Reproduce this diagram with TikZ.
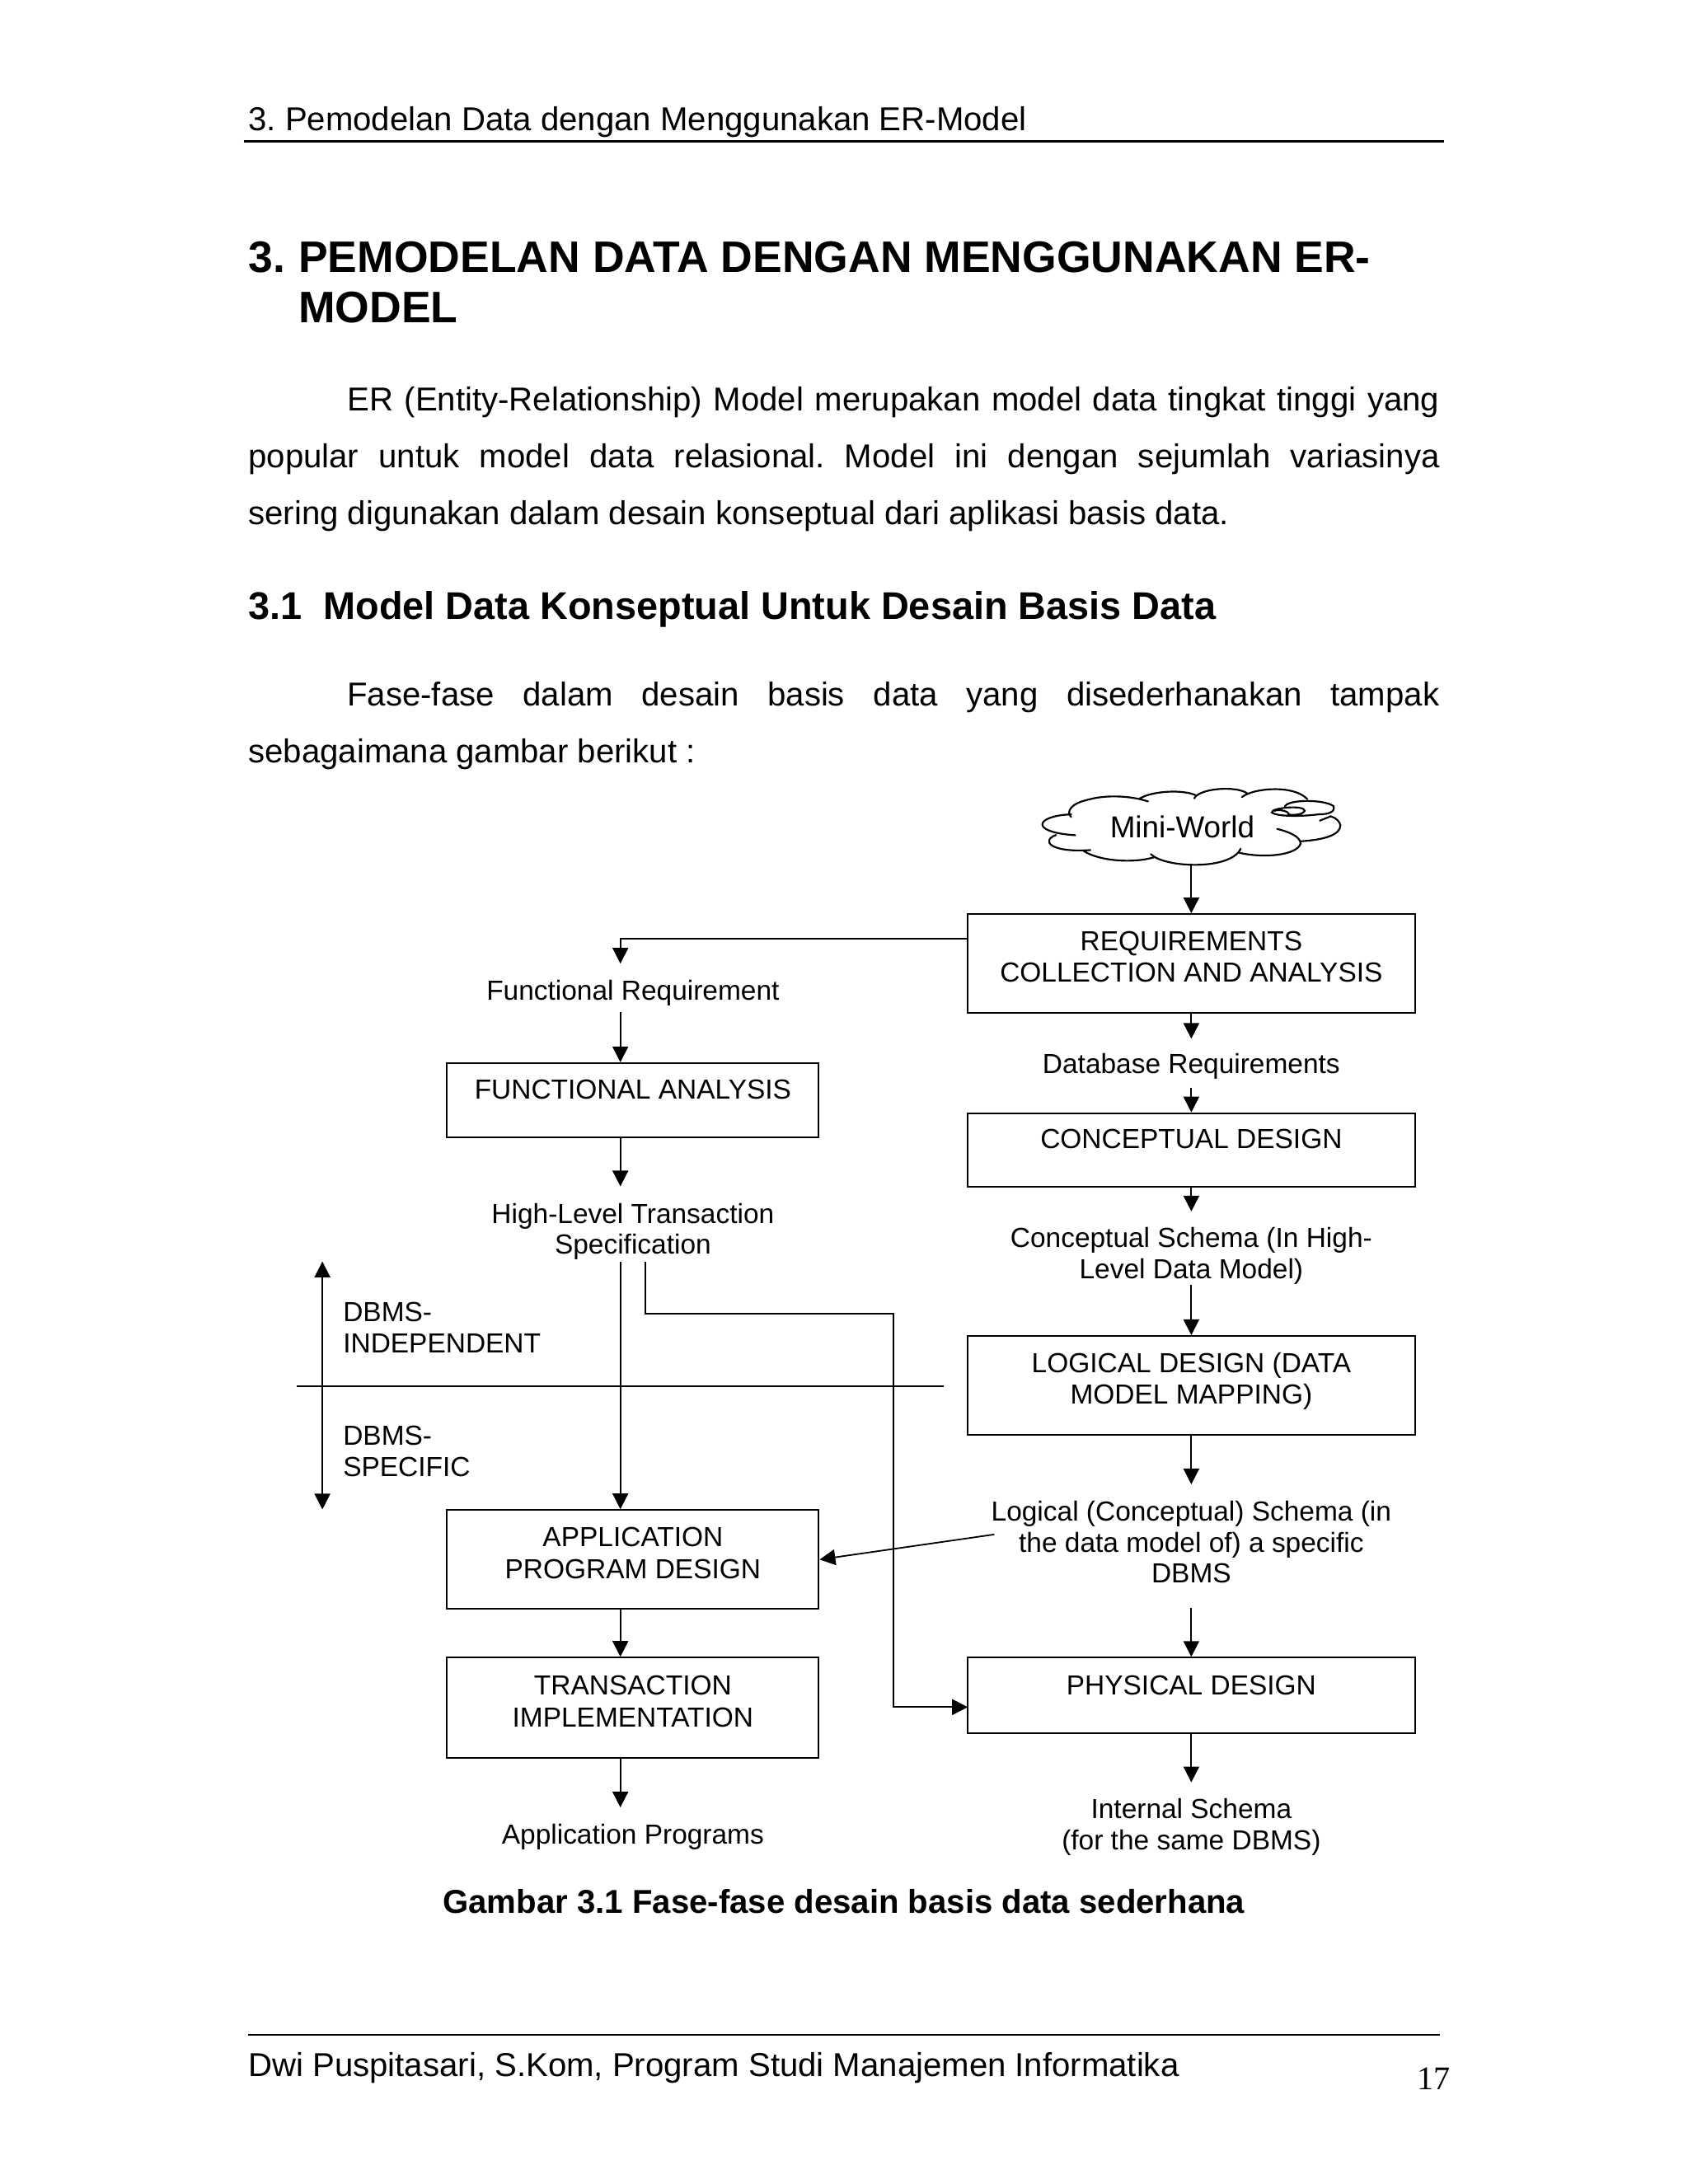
\documentclass[tikz,border=0pt]{standalone}
\usepackage{fontspec}
\setmainfont{Liberation Sans}
\newfontfamily\serifnum{Liberation Serif}
\usetikzlibrary{arrows.meta}
\AtBeginDocument{\frenchspacing}
\newcommand{\lifted}[2]{\raisebox{#1}[0pt][0pt]{\begin{tabular}{@{}c@{}}#2\end{tabular}}}
\tikzset{
  pagetext/.style={anchor=base west,inner sep=0pt,font=\fontsize{12}{14}\selectfont},
  titletext/.style={anchor=base west,inner sep=0pt,font=\fontsize{16}{18}\selectfont\bfseries},
  sectext/.style={anchor=base west,inner sep=0pt,font=\fontsize{14}{16}\selectfont\bfseries},
  procbox/.style={draw,line width=0.6pt,inner sep=0pt,font=\fontsize{10}{11.6}\selectfont},
  flowlabel/.style={inner sep=0pt,align=center,font=\fontsize{10}{11.3}\selectfont},
  sidelabel/.style={inner sep=0pt,align=left,anchor=west,font=\fontsize{10}{11.3}\selectfont},
  conn/.style={line width=0.55pt,-{Triangle[length=5.7pt,width=5.7pt]}},
  bothconn/.style={line width=0.55pt,{Triangle[length=5.7pt,width=5.7pt]}-{Triangle[length=5.7pt,width=5.7pt]}},
  plainline/.style={line width=0.6pt},
  cloudline/.style={line width=0.65pt,line cap=round},
}
\begin{document}
\begin{tikzpicture}[x=0.50495pt,y=-0.50495pt]
\useasboundingbox (0,0) rectangle (1212,1568.5);
\fill[white] (0,0) rectangle (1212,1568.5);
% page header
\node[pagetext] (hdr) at (178,94) {3. Pemodelan Data dengan Menggunakan ER-Model};
\coordinate (hdrL) at (175,101.5); \coordinate (hdrR) at (1037,101.5);
\draw[line width=0.7pt] (hdrL) -- (hdrR);
% headings and text
\node[titletext] (t1a) at (178,195.5) {3.};
\node[titletext] (t1b) at (214,195.5) {PEMODELAN DATA DENGAN MENGGUNAKAN ER-};
\node[titletext] (t1c) at (214,232) {MODEL};
\node[pagetext] (p1) at (249,295) {\makebox[396pt][s]{ER (Entity-Relationship) Model merupakan model data tingkat tinggi yang}};
\node[pagetext] (p2) at (178,336) {\makebox[432pt][s]{popular untuk model data relasional. Model ini dengan sejumlah variasinya}};
\node[pagetext] (p3) at (178,377) {sering digunakan dalam desain konseptual dari aplikasi basis data.};
\node[sectext] (s1) at (178,445) {3.1\ \ Model Data Konseptual Untuk Desain Basis Data};
\node[pagetext] (p4) at (249,507) {\makebox[396pt][s]{Fase-fase dalam desain basis data yang disederhanakan tampak}};
\node[pagetext] (p5) at (178,548) {sebagaimana gambar berikut :};
% cloud
\begin{scope}[shift={(710.06,544.4)},x=0.09961pt,y=-0.09961pt,cloudline]
\draw (300,215) .. controls (280,195) and (300,165) .. (360,152) .. controls (430,132) and (520,138) .. (580,158);
\draw (550,147) .. controls (600,118) and (710,115) .. (752,135);
\draw (748,147) .. controls (765,110) and (900,100) .. (940,128);
\draw (922,142) .. controls (960,110) and (1110,95) .. (1160,150);
\draw (300,205) .. controls (170,210) and (145,270) .. (315,281);
\draw (245,280) .. controls (190,300) and (220,345) .. (370,335);
\draw (345,338) .. controls (400,375) and (530,385) .. (605,360);
\draw (590,350) .. controls (640,400) and (880,410) .. (917,330);
\draw (912,345) .. controls (1000,365) and (1120,355) .. (1135,312) .. controls (1135,285) and (1090,268) .. (1050,258);
\draw (1135,303) .. controls (1220,298) and (1280,280) .. (1280,245) .. controls (1278,232) and (1265,218) .. (1245,212);
\draw (1245,212) -- (1205,228);
\draw (1078,175) .. controls (1095,150) and (1220,150) .. (1255,175) .. controls (1262,195) and (1240,205) .. (1200,205) .. controls (1150,212) and (1050,215) .. (1030,198) .. controls (1030,180) and (1150,170) .. (1150,192) .. controls (1145,205) and (1110,210) .. (1090,205);
\draw (1040,192) .. controls (1060,185) and (1090,195) .. (1092,202);
\end{scope}
\node[inner sep=0pt,font=\fontsize{11}{13}\selectfont] (cloud) at (849,594) {Mini-World};
\coordinate (cloudbot) at (855.5,620);
% right column boxes
\node[procbox,minimum width=162.1pt,minimum height=35.9pt] (req) at (855.5,692) {\lifted{-1.2pt}{REQUIREMENTS\\COLLECTION AND ANALYSIS}};
\node[procbox,minimum width=162.1pt,minimum height=26.8pt] (concept) at (855.5,826) {\lifted{0.3pt}{CONCEPTUAL DESIGN}};
\node[procbox,minimum width=162.1pt,minimum height=35.9pt] (logical) at (855.5,995) {\lifted{-1.2pt}{LOGICAL DESIGN (DATA\\MODEL MAPPING)}};
\node[procbox,minimum width=162.1pt,minimum height=27.3pt] (physical) at (855.5,1217.5) {\lifted{-0.1pt}{PHYSICAL DESIGN}};
% left column boxes
\node[procbox,minimum width=134.8pt,minimum height=26.8pt] (func) at (454.5,790) {\lifted{0.3pt}{FUNCTIONAL ANALYSIS}};
\node[procbox,minimum width=134.8pt,minimum height=35.9pt] (apd) at (454.5,1120) {\lifted{-1.2pt}{APPLICATION\\PROGRAM DESIGN}};
\node[procbox,minimum width=134.8pt,minimum height=36.4pt] (trans) at (454.5,1226.5) {\lifted{-1.2pt}{TRANSACTION\\IMPLEMENTATION}};
% labels
\node[flowlabel] (lfr) at (454.5,713) {Functional Requirement};
\node[flowlabel] (ldb) at (855.5,766) {Database Requirements};
\node[flowlabel] (lhl) at (454.5,884.5) {High-Level Transaction\\Specification};
\node[flowlabel] (lcs) at (855.5,902) {Conceptual Schema (In High-\\Level Data Model)};
\node[flowlabel] (lls) at (855.5,1107.5) {Logical (Conceptual) Schema (in\\the data model of) a specific\\DBMS};
\node[flowlabel] (lis) at (855.5,1312) {Internal Schema\\(for the same DBMS)};
\node[flowlabel] (lap) at (454.5,1319) {Application Programs};
\node[sidelabel] (dbi) at (246,953.5) {DBMS-\\INDEPENDENT};
\node[sidelabel] (dbs) at (246,1042.5) {DBMS-\\SPECIFIC};
% free connector ends
\coordinate (colL) at (445.5,0);
\coordinate (frTop) at (445.5,692);
\coordinate (frBot) at (445.5,727);
\coordinate (hlTop) at (445.5,852);
\coordinate (hlBotA) at (445.5,906);
\coordinate (hlBotB) at (463.5,906);
\coordinate (bendA) at (463.5,943.5);
\coordinate (bendB) at (641.5,943.5);
\coordinate (pdIn) at (695,1226);
\coordinate (dbTop) at (855.5,746);
\coordinate (dbBot) at (855.5,781);
\coordinate (csTop) at (855.5,870);
\coordinate (csBot) at (855.5,923);
\coordinate (lsTop) at (855.5,1066);
\coordinate (lsBot) at (855.5,1155);
\coordinate (lsOut) at (714,1102);
\coordinate (isTop) at (855.5,1280);
\coordinate (apTop) at (445.5,1298);
\coordinate (sideT) at (231.5,906);
\coordinate (sideB) at (231.5,1084);
\coordinate (divL) at (213,995.5);
\coordinate (divR) at (678,995.5);
\coordinate (reqW) at (695,674);
% connectors
\draw[conn] (cloudbot) -- (req.north -| cloudbot);
\draw[conn] (reqW) -| (frTop);
\draw[conn] (frBot) -- (func.north -| colL);
\draw[conn] (func.south -| colL) -- (hlTop);
\draw[conn] (hlBotA) -- (apd.north -| colL);
\draw[conn] (hlBotB) -- (bendA) -- (bendB) |- (pdIn);
\draw[conn] (req.south) -- (dbTop);
\draw[conn] (dbBot) -- (concept.north);
\draw[conn] (concept.south) -- (csTop);
\draw[conn] (csBot) -- (logical.north);
\draw[conn] (logical.south) -- (lsTop);
\draw[conn] (lsOut) -- (apd.east);
\draw[conn] (lsBot) -- (physical.north);
\draw[conn] (physical.south) -- (isTop);
\draw[conn] (apd.south -| colL) -- (trans.north -| colL);
\draw[conn] (trans.south -| colL) -- (apTop);
\draw[bothconn] (sideT) -- (sideB);
\draw[plainline] (divL) -- (divR);
% caption and footer
\node[inner sep=0pt,anchor=base,font=\fontsize{12}{14}\selectfont\bfseries] (cap) at (606,1374) {Gambar 3.1 Fase-fase desain basis data sederhana};
\coordinate (ftL) at (178,1461.5); \coordinate (ftR) at (1034,1461.5);
\draw[line width=0.7pt] (ftL) -- (ftR);
\node[pagetext] (ft) at (178,1491) {Dwi Puspitasari, S.Kom, Program Studi Manajemen Informatika};
\node[anchor=base west,inner sep=0pt,font=\fontsize{12}{14}\selectfont\serifnum] (pg) at (1017.5,1501) {17};
\end{tikzpicture}
\end{document}
